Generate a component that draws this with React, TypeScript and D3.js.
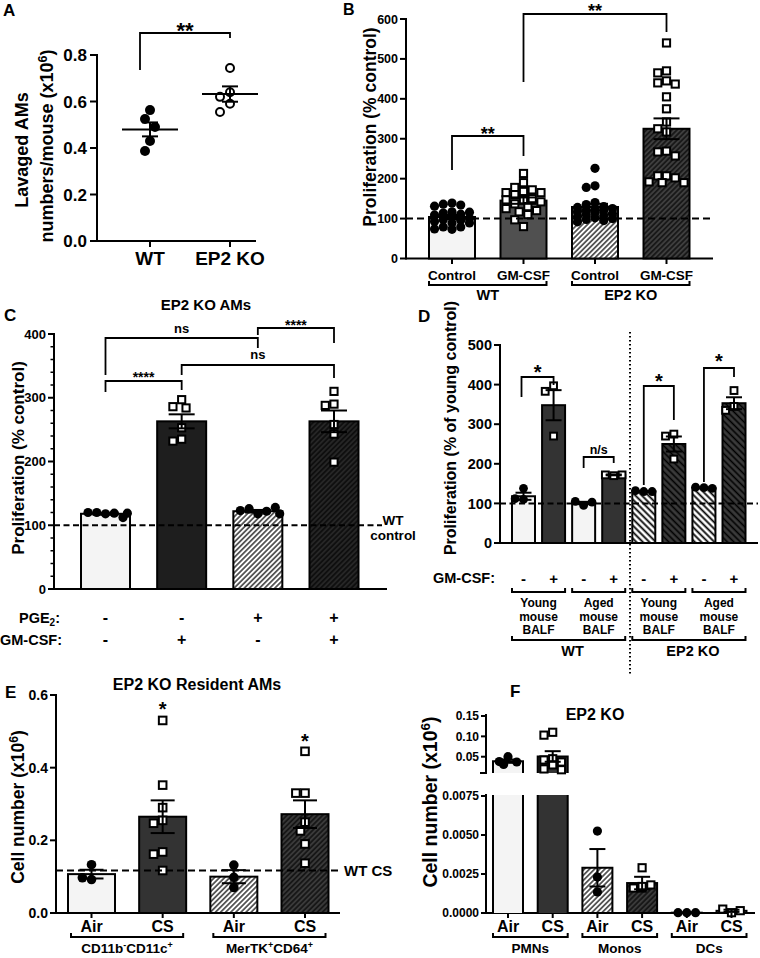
import React from "react";
import * as d3 from "d3";

// ===== Panel A =====
const aGroups = ["WT", "EP2 KO"];
const aWT = [0.563, 0.525, 0.49, 0.43, 0.387];
const aKO = [0.744, 0.64, 0.62, 0.59, 0.555];
const aMean = [0.48, 0.632];
const aSem = [0.03, 0.033];
const aTicks = [0, 0.2, 0.4, 0.6, 0.8];
const aSig = ["**"];

// ===== Panel B =====
const bLabels = ["Control", "GM-CSF", "Control", "GM-CSF"];
const bGroups = ["WT", "EP2 KO"];
const bMean = [104, 145, 129, 325];
const bSem = [5, 8, 8, 26];
const bWTCtrl = [139, 136, 134, 131, 117, 116, 114, 111, 109, 104, 100, 97, 96, 93, 89, 89, 79, 79, 74, 73];
const bWTGM = [213, 190, 178, 172, 168, 165, 165, 160, 150, 147, 147, 142, 137, 130, 125, 120, 117, 110, 97, 80];
const bKOCtrl = [226, 182, 178, 140, 135, 130, 128, 125, 125, 120, 120, 118, 115, 112, 110, 108, 105, 102, 100, 98, 95, 92];
const bKOGM = [540, 470, 465, 445, 440, 437, 405, 375, 342, 325, 317, 269, 267, 257, 207, 207, 202, 192, 190, 190];
const bTicks = [0, 100, 200, 300, 400, 500, 600];
const bRef = 100;
const bSig = ["**", "**"];

// ===== Panel C =====
const cTitle = "EP2 KO AMs";
const cMean = [118, 263, 122, 263];
const cSem = [1.5, 11, 2, 17];
const cP1 = [118, 120, 119, 120, 112, 119];
const cP2 = [297, 286, 284, 253, 235, 232];
const cP3 = [118, 126, 122, 123, 128, 118];
const cP4 = [310, 290, 288, 258, 243, 199];
const cPGE2 = ["-", "-", "+", "+"];
const cGMCSF = ["-", "+", "-", "+"];
const cTicks = [0, 100, 200, 300, 400];
const cRef = 100;
const cSig = ["****", "ns", "ns", "****"];

// ===== Panel D =====
const dMean = [118, 348, 101, 172, 130.5, 250, 139.5, 353];
const dSem = [9, 38, 3, 1, 1, 19, 1, 15];
const dPts = [
  [138, 110, 112],
  [397, 383, 270],
  [95, 105, 103],
  [170, 172, 172],
  [130, 132, 130],
  [275, 270, 212],
  [140, 141, 138],
  [385, 345, 335],
];
const dGMCSF = ["-", "+", "-", "+", "-", "+", "-", "+"];
const dBalf = ["Young", "Aged", "Young", "Aged"];
const dGenotypes = ["WT", "EP2 KO"];
const dTicks = [0, 100, 200, 300, 400, 500];
const dRef = 100;
const dSig = ["*", "n/s", "*", "*"];

// ===== Panel E =====
const eTitle = "EP2 KO Resident AMs";
const eLabels = ["Air", "CS", "Air", "CS"];
const eGroups = [
  [["CD11b", "-"], ["CD11c", "+"]],
  [["MerTK", "+"], ["CD64", "+"]],
];
const eMean = [0.107, 0.265, 0.1, 0.272];
const eSem = [0.012, 0.045, 0.018, 0.038];
const eP1 = [0.133, 0.092, 0.097];
const eP2 = [0.53, 0.352, 0.29, 0.255, 0.247, 0.168, 0.162, 0.117];
const eP3 = [0.132, 0.098, 0.07];
const eP4 = [0.445, 0.33, 0.33, 0.25, 0.226, 0.19, 0.137];
const eTicks = [0, 0.2, 0.4, 0.6];
const eWTCS = 0.117;
const eSig = ["*", "*"];

// ===== Panel F =====
const fTitle = "EP2 KO";
const fLabels = ["Air", "CS", "Air", "CS", "Air", "CS"];
const fGroups = ["PMNs", "Monos", "DCs"];
const fMean = [0.039, 0.0506, 0.0029, 0.00192, 0.00002, 0.00014];
const fSem = [0.004, 0.013, 0.0012, 0.0004, 0, 0.00007];
const fP1 = [0.05, 0.031, 0.037, 0.038];
const fP2 = [0.11, 0.103, 0.045, 0.042, 0.037, 0.03, 0.02, 0.018];
const fP3 = [0.00525, 0.0023, 0.00135];
const fP4 = [0.0029, 0.0016, 0.0016, 0.0018, 0.0017];
const fP5 = [0.00002, 0.00002, 0.00002];
const fP6 = [0.00002, 0.00025, 0.00015];
const fTicksUpper = [0.05, 0.1, 0.15];
const fTicksLower = [0, 0.0025, 0.005, 0.0075];

// ---------------- helpers ----------------
const FF = "'Liberation Sans', Arial, Helvetica, sans-serif";
const LIGHT = "#f4f4f4";

const T = (p: any) => <text fontFamily={FF} fontWeight="bold" fill="#000" {...p} />;

function RotT({ cx, cy, fs, children }: any) {
  return (
    <T transform={`translate(${cx},${cy}) rotate(-90)`} textAnchor="middle" dy="0.36em" fontSize={fs}>
      {children}
    </T>
  );
}

function swarm(vals: number[], y: (v: number) => number, r: number, maxOff: number, gap = 1.9) {
  const out: { dx: number; py: number }[] = [];
  const half = (r * gap) / 2;
  for (const v of vals) {
    const py = y(v);
    let best = 0;
    let bestO = Infinity;
    for (let k = 0; k < 80; k++) {
      const m = Math.ceil(k / 2);
      const dx = k === 0 ? 0 : (k % 2 ? -1 : 1) * m * half;
      if (Math.abs(dx) > maxOff) break;
      let o = 0;
      for (const p of out) {
        const d = Math.hypot(p.dx - dx, p.py - py);
        if (d < r * gap) o += r * gap - d;
      }
      if (o < 1e-6) {
        best = dx;
        bestO = 0;
        break;
      }
      if (o < bestO) {
        bestO = o;
        best = dx;
      }
    }
    out.push({ dx: best, py });
  }
  return out;
}

function Mark({ x, y, r, shape }: any) {
  if (shape === "circle") return <circle cx={x} cy={y} r={r} fill="#000" />;
  if (shape === "ocircle") return <circle cx={x} cy={y} r={r - 1} fill="#fff" stroke="#000" strokeWidth={2} />;
  return <rect x={x - r + 1} y={y - r + 1} width={2 * r - 2} height={2 * r - 2} fill="#fff" stroke="#000" strokeWidth={2} />;
}

function ErrBar({ cx, y, mean, sem, capW, sw = 2 }: any) {
  const y1 = y(mean + sem);
  const y2 = y(mean - sem);
  return (
    <g stroke="#000" strokeWidth={sw}>
      <line x1={cx} x2={cx} y1={y1} y2={y2} />
      <line x1={cx - capW} x2={cx + capW} y1={y1} y2={y1} />
      <line x1={cx - capW} x2={cx + capW} y1={y2} y2={y2} />
    </g>
  );
}

function BarCol({ cx, bw, y, base, mean, sem, pts, fill, shape, r, capW, maxOff, py }: any) {
  const yt = y(mean);
  const sp = swarm(pts, py || y, r, maxOff);
  return (
    <g>
      <rect x={cx - bw / 2} y={yt} width={bw} height={Math.max(0, base - yt)} fill={fill} stroke="#000" strokeWidth={2} />
      {sp.map((p, i) => (
        <Mark key={i} x={cx + p.dx} y={p.py} r={r} shape={shape} />
      ))}
      <ErrBar cx={cx} y={y} mean={mean} sem={sem} capW={capW} />
    </g>
  );
}

function YAxis({ x, y, ticks, fmt, fs, len = 6, gap = 3, minor = [], r0, r1 }: any) {
  const [a, b] = y.range();
  return (
    <g>
      <line x1={x} x2={x} y1={r0 ?? a} y2={r1 ?? b} stroke="#000" strokeWidth={2} strokeLinecap="square" />
      {minor.map((t: number) => (
        <line key={"m" + t} x1={x - 3.5} x2={x} y1={y(t)} y2={y(t)} stroke="#000" strokeWidth={1.5} />
      ))}
      {ticks.map((t: number) => (
        <g key={t}>
          <line x1={x - len} x2={x} y1={y(t)} y2={y(t)} stroke="#000" strokeWidth={2} />
          {fmt && (
            <T x={x - len - gap} y={y(t)} dy="0.36em" textAnchor="end" fontSize={fs}>
              {fmt(t)}
            </T>
          )}
        </g>
      ))}
    </g>
  );
}

function Sig({ x1, x2, yTop, yL, yR, label, fs, ty }: any) {
  return (
    <g>
      <path d={`M${x1},${yL}V${yTop}H${x2}V${yR}`} fill="none" stroke="#000" strokeWidth={1.8} />
      <T x={(x1 + x2) / 2} y={ty} textAnchor="middle" fontSize={fs}>
        {label}
      </T>
    </g>
  );
}

function GBracket({ x1, x2, yLine, yTop }: any) {
  return <path d={`M${x1},${yTop}V${yLine}H${x2}V${yTop}`} fill="none" stroke="#000" strokeWidth={2} />;
}

const HLine = ({ x1, x2, y, dash }: any) => (
  <line x1={x1} x2={x2} y1={y} y2={y} stroke="#000" strokeWidth={2} strokeDasharray={dash} strokeLinecap="butt" />
);

function Hatch({ id, bg, period, sw, angle }: any) {
  return (
    <pattern id={id} patternUnits="userSpaceOnUse" width={period} height={period} patternTransform={`rotate(${angle})`}>
      <rect width={period} height={period} fill={bg} />
      <line x1={period / 2} y1={0} x2={period / 2} y2={period} stroke="#000" strokeWidth={sw} />
    </pattern>
  );
}

export default function App() {
  // ---------- A ----------
  const yA = d3.scaleLinear().domain([0, 0.8]).range([241, 55]);
  const xA = d3.scalePoint<string>().domain(aGroups).range([150, 230]);
  const aSets = [aWT, aKO];

  // ---------- B ----------
  const yB = d3.scaleLinear().domain([0, 600]).range([258.5, 19]);
  const xB = d3.scalePoint<number>().domain([0, 1, 2, 3]).range([452, 666.5]);
  const bSets = [bWTCtrl, bWTGM, bKOCtrl, bKOGM];
  const bFills = [LIGHT, "#505050", "url(#hw)", "url(#hdB)"];
  const bShapes = ["circle", "square", "circle", "square"];
  const bBW = 46;

  // ---------- C ----------
  const yC = d3.scaleLinear().domain([0, 400]).range([589, 334]);
  const xC = d3.scalePoint<number>().domain([0, 1, 2, 3]).range([105.5, 334]);
  const cSets = [cP1, cP2, cP3, cP4];
  const cFills = [LIGHT, "#1e1e1e", "url(#hw)", "url(#hdC)"];
  const cShapes = ["circle", "square", "circle", "square"];
  const cBW = 49;
  const cMinor = d3.range(0, 401, 20).filter((v) => v % 100 !== 0);

  // ---------- D ----------
  const yD = d3.scaleLinear().domain([0, 500]).range([543, 345]);
  const xD = d3.scalePoint<number>().domain(d3.range(8)).range([523.5, 734]);
  const dFills = [LIGHT, "#333", LIGHT, "#333", "url(#hw2)", "url(#hd2)", "url(#hw2)", "url(#hd2)"];
  const dBW = 23;

  // ---------- E ----------
  const yE = d3.scaleLinear().domain([0, 0.6]).range([913, 695]);
  const xE = d3.scalePoint<number>().domain([0, 1, 2, 3]).range([91.5, 305]);
  const eSets = [eP1, eP2, eP3, eP4];
  const eFills = [LIGHT, "#333", "url(#hw)", "url(#hdE)"];
  const eShapes = ["circle", "square", "circle", "square"];
  const eBW = 47;

  // ---------- F ----------
  const yFu = d3.scaleLinear().domain([0.01, 0.15]).range([773, 716]);
  const yFl = d3.scaleLinear().domain([0, 0.0075]).range([913, 796]);
  const xF = d3.scalePoint<number>().domain(d3.range(6)).range([508, 731.5]);
  const fSets = [fP1, fP2, fP3, fP4, fP5, fP6];
  const fFills = [LIGHT, "#333", "url(#hw)", "url(#hdE)", LIGHT, "#333"];
  const fShapes = ["circle", "square", "circle", "square", "circle", "square"];
  const fBW = 30;

  const sup = (base: string, s: string, fs: number) => [
    <tspan key="b">{base}</tspan>,
    <tspan key="s" dy={-fs * 0.38} fontSize={fs * 0.7}>
      {s}
    </tspan>,
    <tspan key="r" dy={fs * 0.38}>
      {")"}
    </tspan>,
  ];

  return (
    <svg width={760} height={958} style={{ position: "absolute", left: 0, top: 0, background: "#fff" }}>
      <defs>
        <Hatch id="hw" bg="#fff" period={3.6} sw={1.2} angle={45} />
        <Hatch id="hdB" bg="#3e3e3e" period={3.6} sw={1.1} angle={45} />
        <Hatch id="hdC" bg="#262626" period={3.6} sw={1.1} angle={45} />
        <Hatch id="hdE" bg="#3a3a3a" period={3.6} sw={1.1} angle={45} />
        <Hatch id="hw2" bg="#fff" period={4.6} sw={1.8} angle={-45} />
        <Hatch id="hd2" bg="#3a3a3a" period={4.6} sw={1.6} angle={-45} />
      </defs>
      <rect width={760} height={958} fill="#fff" />

      {/* ================= A ================= */}
      <T x={3} y={16} fontSize={17}>A</T>
      <YAxis x={97} y={yA} ticks={aTicks} fmt={d3.format(".1f")} fs={17} len={7} gap={3} />
      <line x1={97} x2={256} y1={241} y2={241} stroke="#000" strokeWidth={2} />
      {aGroups.map((g) => (
        <g key={g}>
          <line x1={xA(g)} x2={xA(g)} y1={241} y2={247} stroke="#000" strokeWidth={2} />
          <T x={xA(g)} y={265} textAnchor="middle" fontSize={19}>
            {g}
          </T>
        </g>
      ))}
      <RotT cx={22} cy={150} fs={18}>Lavaged AMs</RotT>
      <RotT cx={47} cy={146} fs={18}>
        {sup("numbers/mouse (x10", "6", 18)}
      </RotT>
      {aSets.map((vals, i) => {
        const cx = xA(aGroups[i]) as number;
        const sp = swarm(vals, yA, 5, 14, 2.0);
        return (
          <g key={i}>
            {sp.map((p, j) => (
              <Mark key={j} x={cx + p.dx} y={p.py} r={5} shape={i === 0 ? "circle" : "ocircle"} />
            ))}
            <line x1={cx - 28} x2={cx + 28} y1={yA(aMean[i])} y2={yA(aMean[i])} stroke="#000" strokeWidth={2} />
            <ErrBar cx={cx} y={yA} mean={aMean[i]} sem={aSem[i]} capW={8} />
          </g>
        );
      })}
      <Sig x1={(xA("WT") as number) - 10} x2={xA("EP2 KO")} yTop={33} yL={70} yR={38} label={aSig[0]} fs={22} ty={38} />

      {/* ================= B ================= */}
      <T x={343} y={15} fontSize={16}>B</T>
      <YAxis x={406} y={yB} ticks={bTicks} fmt={d3.format("d")} fs={12.5} len={6} gap={2} />
      <line x1={406} x2={713} y1={258.5} y2={258.5} stroke="#000" strokeWidth={2} />
      <RotT cx={370} cy={127} fs={17.5}>Proliferation (% control)</RotT>
      {bMean.map((m, i) => (
        <BarCol
          key={i}
          cx={xB(i)}
          bw={bBW}
          y={yB}
          base={258.5}
          mean={m}
          sem={bSem[i]}
          pts={bSets[i]}
          fill={bFills[i]}
          shape={bShapes[i]}
          r={4.6}
          capW={13}
          maxOff={20}
        />
      ))}
      <HLine x1={406} x2={713} y={yB(bRef)} dash="7,4" />
      {bLabels.map((l, i) => (
        <g key={i}>
          <line x1={xB(i)} x2={xB(i)} y1={258.5} y2={264} stroke="#000" strokeWidth={2} />
          <T x={xB(i)} y={280} textAnchor="middle" fontSize={13.5}>
            {l}
          </T>
        </g>
      ))}
      {bGroups.map((g, k) => {
        const l = (xB(2 * k) as number) - bBW / 2;
        const r = (xB(2 * k + 1) as number) + bBW / 2;
        return (
          <g key={g}>
            <GBracket x1={l} x2={r} yLine={285} yTop={281} />
            <T x={(l + r) / 2} y={300} textAnchor="middle" fontSize={14.5}>
              {g}
            </T>
          </g>
        );
      })}
      <Sig x1={xB(0)} x2={xB(1)} yTop={136} yL={170} yR={156} label={bSig[0]} fs={18} ty={140} />
      <Sig x1={xB(1)} x2={xB(3)} yTop={14} yL={82} yR={32} label={bSig[1]} fs={18} ty={17} />

      {/* ================= C ================= */}
      <T x={206} y={310} textAnchor="middle" fontSize={15}>{cTitle}</T>
      <T x={4} y={321} fontSize={17}>C</T>
      <YAxis x={54} y={yC} ticks={cTicks} fmt={d3.format("d")} fs={13} len={6} gap={2} minor={cMinor} />
      <line x1={54} x2={387} y1={589} y2={589} stroke="#000" strokeWidth={2} />
      <RotT cx={18} cy={458} fs={17}>Proliferation (% control)</RotT>
      {cMean.map((m, i) => (
        <BarCol
          key={i}
          cx={xC(i)}
          bw={cBW}
          y={yC}
          base={589}
          mean={m}
          sem={cSem[i]}
          pts={cSets[i]}
          fill={cFills[i]}
          shape={cShapes[i]}
          r={4.6}
          capW={13}
          maxOff={22}
        />
      ))}
      <HLine x1={54} x2={382} y={yC(cRef)} dash="6,3.5" />
      <T x={393} y={525} textAnchor="middle" fontSize={13.5}>WT</T>
      <T x={393} y={540} textAnchor="middle" fontSize={13.5}>control</T>
      <T x={60} y={623} textAnchor="end" fontSize={14.5}>
        <tspan>PGE</tspan>
        <tspan dy={3} fontSize={10}>2</tspan>
        <tspan dy={-3}>:</tspan>
      </T>
      <T x={62} y={645} textAnchor="end" fontSize={14.5}>GM-CSF:</T>
      {cPGE2.map((s, i) => (
        <T key={"p" + i} x={xC(i)} y={623} textAnchor="middle" fontSize={16}>
          {s}
        </T>
      ))}
      {cGMCSF.map((s, i) => (
        <T key={"g" + i} x={xC(i)} y={645} textAnchor="middle" fontSize={16}>
          {s}
        </T>
      ))}
      <Sig x1={xC(0)} x2={xC(2)} yTop={338} yL={375} yR={348} label={cSig[1]} fs={13} ty={333} />
      <Sig x1={xC(2)} x2={xC(3)} yTop={328} yL={335} yR={343} label={cSig[3]} fs={14} ty={330} />
      <Sig x1={xC(1)} x2={xC(3)} yTop={365} yL={375} yR={378} label={cSig[2]} fs={13} ty={359} />
      <Sig x1={xC(0)} x2={xC(1)} yTop={381} yL={392} yR={390} label={cSig[0]} fs={14} ty={382} />

      {/* ================= D ================= */}
      <T x={418} y={322} fontSize={17}>D</T>
      <YAxis x={500} y={yD} ticks={dTicks} fmt={d3.format("d")} fs={14.5} len={6} gap={2} />
      <line x1={500} x2={758} y1={543} y2={543} stroke="#000" strokeWidth={2} />
      <RotT cx={450} cy={428} fs={16}>Proliferation (% of young control)</RotT>
      {dMean.map((m, i) => (
        <BarCol
          key={i}
          cx={xD(i)}
          bw={dBW}
          y={yD}
          base={543}
          mean={m}
          sem={dSem[i]}
          pts={dPts[i]}
          fill={dFills[i]}
          shape={i % 2 ? "square" : "circle"}
          r={4.4}
          capW={8}
          maxOff={9}
        />
      ))}
      <HLine x1={500} x2={758} y={yD(dRef)} dash="6,3.5" />
      <line x1={630} x2={630} y1={332} y2={675} stroke="#000" strokeWidth={2} strokeDasharray="1.5,2.5" />
      <Sig x1={(xD(0) as number) - 2} x2={xD(1)} yTop={377} yL={397} yR={385} label={dSig[0]} fs={20} ty={379} />
      <Sig x1={xD(2)} x2={xD(3)} yTop={457} yL={468} yR={463} label={dSig[1]} fs={12.5} ty={454} />
      <Sig x1={xD(4)} x2={xD(5)} yTop={386} yL={485} yR={420} label={dSig[2]} fs={20} ty={388} />
      <Sig x1={xD(6)} x2={xD(7)} yTop={368} yL={482} yR={377} label={dSig[3]} fs={20} ty={368} />
      <T x={495} y={583} textAnchor="end" fontSize={14.5}>GM-CSF:</T>
      {dGMCSF.map((s, i) => (
        <T key={i} x={xD(i)} y={584} textAnchor="middle" fontSize={15}>
          {s}
        </T>
      ))}
      {dBalf.map((b, k) => {
        const l = (xD(2 * k) as number) - dBW / 2;
        const r = (xD(2 * k + 1) as number) + dBW / 2;
        const c = (l + r) / 2;
        return (
          <g key={k}>
            <GBracket x1={l} x2={r} yLine={592} yTop={588} />
            <T x={c} y={607} textAnchor="middle" fontSize={12}>{b}</T>
            <T x={c} y={620.5} textAnchor="middle" fontSize={12}>mouse</T>
            <T x={c} y={634} textAnchor="middle" fontSize={12}>BALF</T>
          </g>
        );
      })}
      {dGenotypes.map((g, k) => {
        const l = (xD(4 * k) as number) - dBW / 2;
        const r = (xD(4 * k + 3) as number) + dBW / 2;
        return (
          <g key={g}>
            <GBracket x1={l} x2={r} yLine={640} yTop={636} />
            <T x={(l + r) / 2 + 4} y={656} textAnchor="middle" fontSize={14.5}>
              {g}
            </T>
          </g>
        );
      })}

      {/* ================= E ================= */}
      <T x={5} y={698} fontSize={17}>E</T>
      <T x={197} y={690} textAnchor="middle" fontSize={16}>{eTitle}</T>
      <YAxis x={56} y={yE} ticks={eTicks} fmt={d3.format(".1f")} fs={14} len={6} gap={2} />
      <line x1={56} x2={340} y1={913} y2={913} stroke="#000" strokeWidth={2} />
      <RotT cx={18} cy={807} fs={17.5}>
        {sup("Cell number (x10", "6", 17.5)}
      </RotT>
      {eMean.map((m, i) => (
        <BarCol
          key={i}
          cx={xE(i)}
          bw={eBW}
          y={yE}
          base={913}
          mean={m}
          sem={eSem[i]}
          pts={eSets[i]}
          fill={eFills[i]}
          shape={eShapes[i]}
          r={4.8}
          capW={12}
          maxOff={14}
        />
      ))}
      <HLine x1={56} x2={340} y={yE(eWTCS)} dash="7,4" />
      <T x={344} y={876} fontSize={15}>WT CS</T>
      <T x={xE(1)} y={716} textAnchor="middle" fontSize={20}>{eSig[0]}</T>
      <T x={xE(3)} y={748} textAnchor="middle" fontSize={20}>{eSig[1]}</T>
      {eLabels.map((l, i) => (
        <g key={i}>
          <line x1={xE(i)} x2={xE(i)} y1={913} y2={918} stroke="#000" strokeWidth={2} />
          <T x={xE(i)} y={932} textAnchor="middle" fontSize={16}>
            {l}
          </T>
        </g>
      ))}
      {eGroups.map((g, k) => {
        const l = (xE(2 * k) as number) - eBW / 2 + 3;
        const r = (xE(2 * k + 1) as number) + eBW / 2 - 3;
        return (
          <g key={k}>
            <GBracket x1={l} x2={r} yLine={937} yTop={933} />
            <T x={(l + r) / 2} y={953} textAnchor="middle" fontSize={13.5}>
              <tspan>{g[0][0]}</tspan>
              <tspan dy={-5} fontSize={9}>{g[0][1]}</tspan>
              <tspan dy={5}>{g[1][0]}</tspan>
              <tspan dy={-5} fontSize={9}>{g[1][1]}</tspan>
            </T>
          </g>
        );
      })}

      {/* ================= F ================= */}
      <T x={510} y={697} fontSize={17}>F</T>
      <T x={595} y={720} textAnchor="middle" fontSize={16}>{fTitle}</T>
      <YAxis x={486} y={yFu} ticks={fTicksUpper} fmt={d3.format(".2f")} fs={12} len={5} gap={2} r0={773} r1={715} />
      <line x1={480} x2={486} y1={773} y2={773} stroke="#000" strokeWidth={2} />
      <YAxis x={486} y={yFl} ticks={fTicksLower} fmt={d3.format(".4f")} fs={12} len={5} gap={2} r0={913} r1={795} />
      <line x1={486} x2={755} y1={913} y2={913} stroke="#000" strokeWidth={2} />
      <RotT cx={430} cy={802} fs={19.5}>
        {sup("Cell number (x10", "6", 19.5)}
      </RotT>
      {/* PMN bars: broken axis */}
      {[0, 1].map((i) => {
        const cx = xF(i) as number;
        const l = cx - fBW / 2;
        const r = cx + fBW / 2;
        const yt = yFu(fMean[i]);
        const sp = swarm(fSets[i], yFu, 4.6, 11);
        return (
          <g key={i}>
            <rect x={l} y={795} width={fBW} height={913 - 795} fill={fFills[i]} />
            <path d={`M${l},913V795M${r},795V913`} stroke="#000" strokeWidth={2} fill="none" />
            <rect x={l} y={yt} width={fBW} height={773 - yt} fill={fFills[i]} />
            <path d={`M${l},773V${yt}H${r}V773`} stroke="#000" strokeWidth={2} fill="none" />
            {sp.map((p, j) => (
              <Mark key={j} x={cx + p.dx} y={p.py} r={4.6} shape={fShapes[i]} />
            ))}
            <ErrBar cx={cx} y={yFu} mean={fMean[i]} sem={fSem[i]} capW={8} />
          </g>
        );
      })}
      {[2, 3, 4, 5].map((i) => (
        <BarCol
          key={i}
          cx={xF(i)}
          bw={fBW}
          y={yFl}
          base={913}
          mean={fMean[i]}
          sem={fSem[i]}
          pts={fSets[i]}
          fill={i >= 4 ? "none" : fFills[i]}
          shape={fShapes[i]}
          r={4.6}
          capW={8}
          maxOff={13}
        />
      ))}
      {fLabels.map((l, i) => (
        <g key={i}>
          <line x1={xF(i)} x2={xF(i)} y1={913} y2={918} stroke="#000" strokeWidth={2} />
          <T x={xF(i)} y={932} textAnchor="middle" fontSize={16}>
            {l}
          </T>
        </g>
      ))}
      {fGroups.map((g, k) => {
        const l = (xF(2 * k) as number) - fBW / 2;
        const r = (xF(2 * k + 1) as number) + fBW / 2;
        return (
          <g key={g}>
            <GBracket x1={l} x2={r} yLine={937} yTop={933} />
            <T x={(l + r) / 2} y={953} textAnchor="middle" fontSize={13.5}>
              {g}
            </T>
          </g>
        );
      })}
    </svg>
  );
}
